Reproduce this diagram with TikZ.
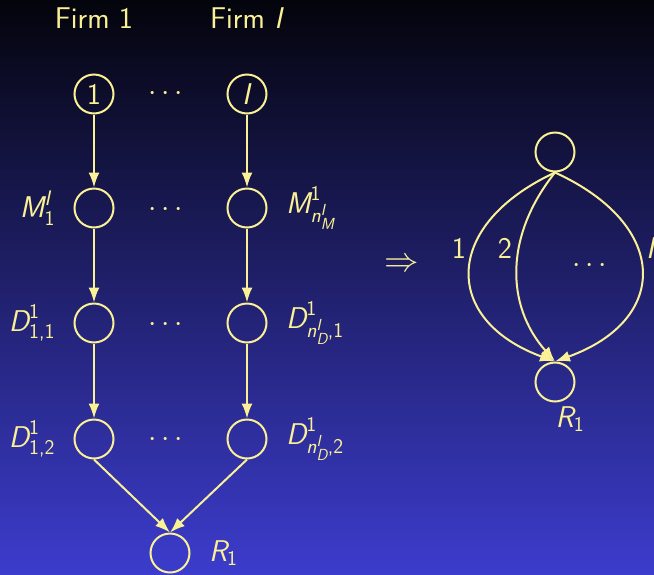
\RequirePackage{fix-cm}
\documentclass[tikz,border=0pt]{standalone}
\usepackage{amsmath}
\usepackage{graphicx}
\usepackage{fontspec}
\usetikzlibrary{arrows.meta}
\DeclareMathSizes{30}{30}{21}{16}
\definecolor{bgtop}{RGB}{4,4,12}
\definecolor{bgbot}{RGB}{60,60,205}
\definecolor{fg}{RGB}{250,240,150}
\newcommand\vi[1]{\text{\itshape #1}}
\newcommand\vr[1]{\text{#1}}
\tikzset{
  vert/.style={circle,draw=fg,line width=2pt,minimum size=39pt,inner sep=0pt,text=fg},
  arr/.style={-{Latex[length=15pt,width=11pt]},line width=2pt,draw=fg},
  lbl/.style={text=fg},
  ll/.style={lbl,label distance=15pt},
}
\begin{document}
\begin{tikzpicture}[x=1pt,y=-1pt,font=\sffamily\fontsize{30}{36}\selectfont]
\shade[top color=bgtop,bottom color=bgbot] (0,0) rectangle (654,574);
\useasboundingbox (0,0) rectangle (654,574);
% headings
\node[lbl] (f1) at (94,18) {Firm 1};
\node[lbl] (fI) at (247,18) {Firm \textit{I}};
% left column
\node[vert] (a1) at (94,94) {1};
\node[vert,label={[ll]left:$\vi{M}^{\vi{I}}_{\vr{1}}$}] (m1) at (94,208) {};
\node[vert,label={[ll]left:$\vi{D}^{\vr{1}}_{\vr{1,1}}$}] (d11) at (94,323) {};
\node[vert,label={[ll]left:$\vi{D}^{\vr{1}}_{\vr{1,2}}$}] (d12) at (94,439) {};
% right column
\node[vert] (aI) at (247,94) {\textit{I}};
\node[vert,label={[ll]right:$\vi{M}^{\vr{1}}_{\vi{n}^{\vi{I}}_{\vi{M}}}$}] (mI) at (247,208) {};
\node[vert,label={[ll]right:$\vi{D}^{\vr{1}}_{\vi{n}^{\vi{I}}_{\vi{D}}\vr{,1}}$}] (dI1) at (247,323) {};
\node[vert,label={[ll]right:$\vi{D}^{\vr{1}}_{\vi{n}^{\vi{I}}_{\vi{D}}\vr{,2}}$}] (dI2) at (247,439) {};
% dots
\node[lbl] (c1) at (168,93.5) {$\cdots$};
\node[lbl] (c2) at (168,209.5) {$\cdots$};
\node[lbl] (c3) at (168,324.5) {$\cdots$};
\node[lbl] (c4) at (168,439.5) {$\cdots$};
% sink
\node[vert,label={[ll]right:$\vi{R}_{\vr{1}}$}] (r1) at (170,553) {};
% edges
\draw[arr] (a1) -- (m1);
\draw[arr] (m1) -- (d11);
\draw[arr] (d11) -- (d12);
\draw[arr] (aI) -- (mI);
\draw[arr] (mI) -- (dI1);
\draw[arr] (dI1) -- (dI2);
\draw[arr] (d12.south) -- (r1.north);
\draw[arr] (dI2.south) -- (r1.north);
% implication
\node[lbl] (imp) at (402,265) {\scalebox{1.15}{$\Rightarrow$}};
% right graph
\node[vert] (t) at (555,152) {};
\node[vert] (r) at (555,382) {};
\node[lbl] (rlab) at (570,419) {$\vi{R}_{\vr{1}}$};
\draw[arr] (t.south) .. controls (442,225) and (442,320) .. (r.north);
\draw[arr] (t.south) .. controls (505,235) and (505,305) .. (r.north);
\draw[arr] (t.south) .. controls (670,225) and (670,320) .. (r.north);
\node[lbl] (e1) at (459,248) {1};
\node[lbl] (e2) at (505,248) {2};
\node[lbl,anchor=west,inner sep=0pt] (eI) at (646,248) {\textit{I}};
\node[lbl] (c5) at (592,266) {$\cdots$};
\end{tikzpicture}
\end{document}
